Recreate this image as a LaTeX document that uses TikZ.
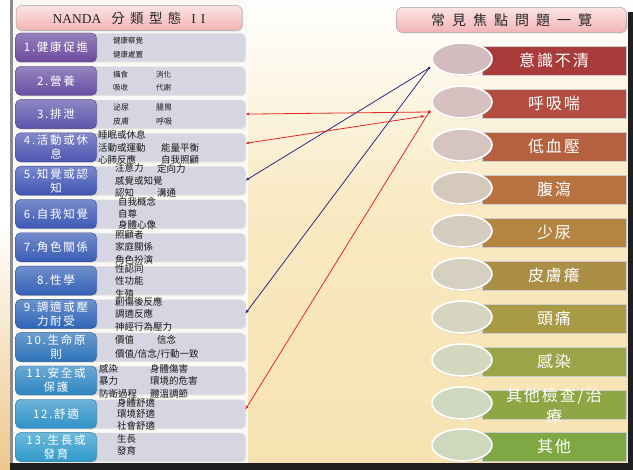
\documentclass[tikz,border=0pt]{standalone}
\usepackage{fontspec}
\setmainfont{Noto Sans CJK TC}
\newfontfamily\lat{Liberation Serif}
\usetikzlibrary{shapes.geometric,arrows.meta,calc,shadows}

\definecolor{bgc}{HTML}{F9EAC4}
\definecolor{bgd}{HTML}{F7E2B0}
\definecolor{panel}{HTML}{FAF9F6}
\definecolor{boxc}{HTML}{D6D6E2}
\definecolor{navy}{HTML}{2A2A80}
\definecolor{redl}{HTML}{E02828}
\definecolor{pinkA}{HTML}{FCE4E4}
\definecolor{pinkB}{HTML}{F2B4B4}
\definecolor{lc1}{HTML}{6B4A9E}
\definecolor{lc2}{HTML}{684FA3}
\definecolor{lc3}{HTML}{5D54AA}
\definecolor{lc4}{HTML}{4C55B0}
\definecolor{lc5}{HTML}{4055B5}
\definecolor{lc6}{HTML}{3D57B5}
\definecolor{lc7}{HTML}{385BB5}
\definecolor{lc8}{HTML}{3460B5}
\definecolor{lc9}{HTML}{2E64B6}
\definecolor{lc10}{HTML}{2C72B9}
\definecolor{lc11}{HTML}{2C85C0}
\definecolor{lc12}{HTML}{2F92C7}
\definecolor{lc13}{HTML}{2F9ACB}
\definecolor{rc1}{HTML}{A93B3B}
\definecolor{rc2}{HTML}{B34D3F}
\definecolor{rc3}{HTML}{B5603F}
\definecolor{rc4}{HTML}{B87340}
\definecolor{rc5}{HTML}{B38442}
\definecolor{rc6}{HTML}{AB8F45}
\definecolor{rc7}{HTML}{A99A45}
\definecolor{rc8}{HTML}{9BA446}
\definecolor{rc9}{HTML}{8FA645}
\definecolor{rc10}{HTML}{7FA845}
\definecolor{ec1}{HTML}{D2BCC0}
\definecolor{ec2}{HTML}{D6C0C0}
\definecolor{ec3}{HTML}{D5C4C0}
\definecolor{ec4}{HTML}{D5C8BD}
\definecolor{ec5}{HTML}{D5CDBF}
\definecolor{ec6}{HTML}{D6D0C0}
\definecolor{ec7}{HTML}{D5D5C0}
\definecolor{ec8}{HTML}{D3D8C0}
\definecolor{ec9}{HTML}{D0D8C0}
\definecolor{ec10}{HTML}{CDD8BD}

\tikzset{
  cbox/.style={draw=black!12, fill=boxc, rounded corners=4pt, minimum width=155pt,
    minimum height=28pt, inner sep=0pt,
    drop shadow={opacity=0.2, shadow xshift=1pt, shadow yshift=-1pt}},
  lbox/.style={rounded corners=5pt, minimum width=81pt, minimum height=29pt,
    text=white, align=center, inner sep=1pt, top color=#1!70!white, bottom color=#1,
    draw=#1!80!black, line width=0.4pt,
    font={\fontsize{11.5}{14}\selectfont\addfontfeature{LetterSpace=15}},
    drop shadow={opacity=0.25, shadow xshift=1pt, shadow yshift=-1pt}},
  ctext/.style={anchor=west, align=left, inner sep=0pt, text=black!90,
    font={\fontsize{9.5}{12.5}\selectfont}},
  hdr/.style={rounded corners=6pt, top color=pinkA, bottom color=pinkB,
    draw=black!35, line width=0.5pt, inner sep=0pt, text=black!85,
    drop shadow={opacity=0.25, shadow xshift=1pt, shadow yshift=-1pt}},
  rrect/.style={minimum width=144pt, minimum height=29pt, draw=white!80!black,
    line width=0.8pt, text=white, inner sep=0pt, align=center,
    font={\fontsize{16}{21}\selectfont\addfontfeature{LetterSpace=12}},
    drop shadow={opacity=0.3, shadow xshift=1pt, shadow yshift=-1pt}},
  ell/.style={ellipse, draw=white, line width=1.6pt, minimum width=60pt,
    minimum height=32pt, inner sep=0pt,
    drop shadow={opacity=0.35, shadow xshift=0.8pt, shadow yshift=-1.2pt}},
  bluel/.style={draw=navy, line width=0.8pt},
  redline/.style={draw=redl, line width=0.8pt},
  tip/.style={-{Latex[length=4pt,width=3pt]}}
}

\begin{document}
\begin{tikzpicture}[x=1pt,y=-1pt]
\useasboundingbox (0,0) rectangle (633,470);
% background
\fill[bgc] (0,0) rectangle (633,470);
\shade[top color=white, bottom color=bgc] (248,0) rectangle (633,200);
\shade[top color=bgc, bottom color=bgd] (248,200) rectangle (633,470);
\fill[white] (0,0) rectangle (10,220);
\shade[top color=white, bottom color={rgb,255:red,238;green,200;blue,140}] (0,220) rectangle (10,470);
\fill[panel] (12,0) rectangle (248,463);
\fill[black!45] (10,0) rectangle (12.5,463);
\fill[black!88] (10,463) rectangle (633,470);
\fill[black!88] (628,12) rectangle (633,470);

% left header
\node[hdr, minimum width=226pt, minimum height=25pt] (lh) at (129,18)
  {\fontsize{13.5}{15}\selectfont{\lat NANDA}\hspace{10pt}{\addfontfeature{LetterSpace=40}分類型態}\hspace{10pt}{\lat I\hspace{5pt}I}};

% left rows: content boxes
\node[cbox] (c1) at (167.5,47.5) {};
\node[cbox] (c2) at (167.5,80.8) {};
\node[cbox] (c3) at (167.5,114.1) {};
\node[cbox] (c4) at (167.5,147.4) {};
\node[cbox] (c5) at (167.5,180.7) {};
\node[cbox] (c6) at (167.5,214.0) {};
\node[cbox] (c7) at (167.5,247.3) {};
\node[cbox] (c8) at (167.5,280.6) {};
\node[cbox] (c9) at (167.5,313.9) {};
\node[cbox] (c10) at (167.5,347.2) {};
\node[cbox] (c11) at (167.5,380.5) {};
\node[cbox] (c12) at (167.5,413.8) {};
\node[cbox] (c13) at (167.5,447.1) {};

% left rows: labels
\node[lbox=lc1] (l1) at (56,47.5) {1.健康促進};
\node[lbox=lc2] (l2) at (56,80.8) {2.營養};
\node[lbox=lc3] (l3) at (56,114.1) {3.排泄};
\node[lbox=lc4] (l4) at (56,147.4) {4.活動或休\\息};
\node[lbox=lc5] (l5) at (56,180.7) {5.知覺或認\\知};
\node[lbox=lc6] (l6) at (56,214.0) {6.自我知覺};
\node[lbox=lc7] (l7) at (56,247.3) {7.角色關係};
\node[lbox=lc8] (l8) at (56,280.6) {8.性學};
\node[lbox=lc9] (l9) at (56,313.9) {9.調適或壓\\力耐受};
\node[lbox=lc10] (l10) at (56,347.2) {10.生命原\\則};
\node[lbox=lc11] (l11) at (56,380.5) {11.安全或\\保護};
\node[lbox=lc12] (l12) at (56,413.8) {12.舒適};
\node[lbox=lc13] (l13) at (56,447.1) {13.生長或\\發育};

% left rows: content texts
\node[ctext, font={\fontsize{7.5}{14}\selectfont}] (t1a) at (113,48) {健康察覺\\健康處置};
\node[ctext, font={\fontsize{7.5}{13}\selectfont}] (t2a) at (113,81.5) {攝食\\吸收};
\node[ctext, font={\fontsize{7.5}{13}\selectfont}] (t2b) at (156,81.5) {消化\\代謝};
\node[ctext, font={\fontsize{8}{14}\selectfont}] (t3a) at (113,115) {泌尿\\皮膚};
\node[ctext, font={\fontsize{8}{14}\selectfont}] (t3b) at (156,115) {腸胃\\呼吸};
\node[ctext] (t4a) at (98,147.5) {睡眠或休息\\活動或運動\\心肺反應};
\node[ctext] (t4b) at (161,153.8) {能量平衡\\自我照顧};
\node[ctext] (t5a) at (115,180.7) {注意力\\感覺或知覺\\認知};
\node[ctext] (t5b) at (157,168.5) {定向力};
\node[ctext] (t5c) at (157,193) {溝通};
\node[ctext, font={\fontsize{9.5}{11.8}\selectfont}] (t6a) at (118,213.5) {自我概念\\自尊\\身體心像};
\node[ctext] (t7a) at (115,247) {照顧者\\家庭關係\\角色扮演};
\node[ctext] (t8a) at (115,281) {性認同\\性功能\\生殖};
\node[ctext] (t9a) at (115,314) {創傷後反應\\調適反應\\神經行為壓力};
\node[ctext, font={\fontsize{9.5}{14}\selectfont}] (t10a) at (115,347) {價值\\價值/信念/行動一致};
\node[ctext] (t10b) at (157,340) {信念};
\node[ctext] (t11a) at (99,381) {感染\\暴力\\防衛過程};
\node[ctext] (t11b) at (150,381) {身體傷害\\環境的危害\\體溫調節};
\node[ctext, font={\fontsize{9.5}{11.5}\selectfont}] (t12a) at (117,414) {身體舒適\\環境舒適\\社會舒適};
\node[ctext, font={\fontsize{9.5}{12}\selectfont}] (t13a) at (117,445) {生長\\發育};

% right header
\node[hdr, minimum width=230pt, minimum height=25pt] (rh) at (511.5,20)
  {\fontsize{14}{16}\selectfont\addfontfeature{LetterSpace=50}常見焦點問題一覽};

% right items
\node[rrect, fill=rc1] (r1) at (554,60.5) {意識不清};
\node[rrect, fill=rc2] (r2) at (554,103.5) {呼吸喘};
\node[rrect, fill=rc3] (r3) at (554,146.5) {低血壓};
\node[rrect, fill=rc4] (r4) at (554,189.5) {腹瀉};
\node[rrect, fill=rc5] (r5) at (554,232.5) {少尿};
\node[rrect, fill=rc6] (r6) at (554,275.5) {皮膚癢};
\node[rrect, fill=rc7] (r7) at (554,318.5) {頭痛};
\node[rrect, fill=rc8] (r8) at (554,361.5) {感染};
\node[rrect, fill=rc9] (r9) at (554,404.5) {};
\node[anchor=center, inner sep=0pt, align=center, text=white,
  font={\fontsize{16}{21}\selectfont\addfontfeature{LetterSpace=12}}] (r9t) at (554,406) {其他檢查/治\\療};
\node[rrect, fill=rc10] (r10) at (554,446.5) {其他};

\node[ell, fill=ec1] (e1) at (462,59) {};
\node[ell, fill=ec2] (e2) at (462,102) {};
\node[ell, fill=ec3] (e3) at (462,145) {};
\node[ell, fill=ec4] (e4) at (462,188) {};
\node[ell, fill=ec5] (e5) at (462,231) {};
\node[ell, fill=ec6] (e6) at (462,274) {};
\node[ell, fill=ec7] (e7) at (462,317) {};
\node[ell, fill=ec8] (e8) at (462,360) {};
\node[ell, fill=ec9] (e9) at (462,403) {};
\node[ell, fill=ec10] (e10) at (462,445) {};

% connectors
\coordinate (hb) at ($(e1.west)+(-2,9)$);
\coordinate (hr) at ($(e2.west)+(-2,10)$);
\coordinate (hr2) at ($(e2.west)+(-6,14)$);
\draw[bluel, tip] (hb) -- (c5.east);
\draw[bluel, tip] (hb) -- (c9.east);
\draw[redline, tip] (hr) -- (c3.east);
\draw[redline, {Latex[length=4pt,width=3pt]}-{Latex[length=4pt,width=3pt]}] ([yshift=4pt]c4.east) -- (hr2);
\draw[redline, tip] (hr) -- ([yshift=4pt]c12.east);
\fill[navy] (hb) circle (1.5pt);
\fill[redl] (hr) circle (1.8pt);
\end{tikzpicture}
\end{document}
